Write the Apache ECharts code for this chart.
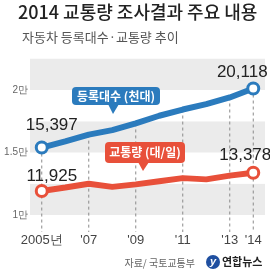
<!DOCTYPE html>
<html><head><meta charset="utf-8">
<script src="https://cdn.jsdelivr.net/npm/echarts@6/dist/echarts.min.js"></script>
<style>html,body{margin:0;padding:0;background:#fff}#c{width:270px;height:274px}</style>
</head><body><div id="c"></div>
<script>
var years = ['2005','2006','2007','2008','2009','2010','2011','2012','2013','2014'];
var yearLabels = ['2005년','',"'07",'',"'09",'',"'11",'',"'13","'14"];
var registered = [15397,15895,16428,16794,17325,17941,18437,18870,19401,20118];
var traffic = [11925,12200,12500,12250,12450,12700,12950,12850,13150,13378];
var guideYears = ['2005','2007','2009','2011','2013','2014'];
var yTickLabels = {10000:'1만',15000:'1.5만',20000:'2만'};

var BLUE = '#2b7bbd', RED = '#e8503a';
var NUM_FONT = "'Liberation Sans Narrow','Liberation Sans',Arial,sans-serif";
var KR_FONT = "'Noto Sans CJK KR',sans-serif";

function endpointData(vals, color, offs){
  return vals.map(function(v,i){
    var last = i===vals.length-1, first = i===0;
    if(first||last){
      var o = first?offs[0]:offs[1];
      return {value:v, symbol:'circle', symbolSize:11,
        itemStyle:{color:'#fff',borderColor:color,borderWidth:3},
        label:{show:true, position:'inside', offset:o,
          formatter:function(p){return p.value.toLocaleString('en-US');},
          fontFamily:NUM_FONT, fontSize:17, color:'#222'}};
    }
    return {value:v, symbol:'none'};
  });
}

var series = [];
guideYears.forEach(function(y){
  var idx = years.indexOf(y);
  series.push({type:'line', silent:true, clip:false, z:1, symbol:'none', animation:false,
    lineStyle:{color:'#8a8a8a', width:1, type:[3,3]},
    data:[[idx, registered[idx]],[idx, 8640]]});
});
series.push({type:'line', z:3, animation:false, data:endpointData(registered, BLUE, [[10,-22],[-11,-16]]),
  lineStyle:{color:BLUE,width:6}, itemStyle:{color:BLUE}});
series.push({type:'line', z:3, animation:false, data:endpointData(traffic, RED, [[10,-15],[-8,-17]]),
  lineStyle:{color:RED,width:6}, itemStyle:{color:RED}});

var chart = echarts.init(document.getElementById('c'), null, {renderer:'canvas'});
chart.setOption({
  animation:false,
  grid:{left:30,right:5,top:58.75,bottom:59},
  xAxis:{type:'category', data:years, boundaryGap:true,
    axisLine:{show:false}, axisTick:{show:false}, splitLine:{show:false},
    axisLabel:{interval:0, margin:19, fontSize:13, color:'#444', fontFamily:NUM_FONT,
      formatter:function(v,i){return yearLabels[i];}}},
  yAxis:{type:'value', min:10000, max:22500, interval:2500,
    axisLine:{show:false}, axisTick:{show:false}, splitLine:{show:false},
    splitArea:{show:true, areaStyle:{color:['#ebebeb','#ffffff']}},
    axisLabel:{margin:2, fontSize:10, color:'#666', fontFamily:NUM_FONT,
      formatter:function(v){return yTickLabels[v]||'';}}},
  series:series,
  graphic:[
    {type:'text', left:18, top:3, style:{text:'2014 교통량 조사결과 주요 내용', font:'500 18px '+KR_FONT, fill:'#222'}},
    {type:'text', left:22, top:31, style:{text:'자동차 등록대수·교통량 추이', font:'13px '+KR_FONT, fill:'#555'}},
    {type:'rect', shape:{x:72,y:87,width:88,height:18,r:4}, style:{fill:BLUE}, z:10},
    {type:'polygon', shape:{points:[[108,104],[119,104],[113,114]]}, style:{fill:BLUE}, z:10},
    {type:'text', x:116, y:96, style:{text:'등록대수 (천대)', font:'bold 12px '+KR_FONT, fill:'#fff', align:'center', verticalAlign:'middle'}, z:11},
    {type:'rect', shape:{x:105,y:142,width:80,height:21,r:4}, style:{fill:RED}, z:10},
    {type:'polygon', shape:{points:[[138,162],[149,162],[143,171]]}, style:{fill:RED}, z:10},
    {type:'text', x:145, y:152.5, style:{text:'교통량 (대/일)', font:'bold 12px '+KR_FONT, fill:'#fff', align:'center', verticalAlign:'middle'}, z:11},
    {type:'text', x:195, y:263, style:{text:'자료/ 국토교통부', font:'10px '+KR_FONT, fill:'#666', align:'right', verticalAlign:'middle'}},
    {type:'circle', shape:{cx:213,cy:262,r:7}, style:{fill:'#1f4fa0'}},
    {type:'text', x:213, y:262, style:{text:'y', font:'italic bold 11px '+NUM_FONT, fill:'#fff', align:'center', verticalAlign:'middle'}},
    {type:'text', x:222, y:262, style:{text:'연합뉴스', font:'bold 11px '+KR_FONT, fill:'#222', verticalAlign:'middle'}}
  ]
});
</script></body></html>
